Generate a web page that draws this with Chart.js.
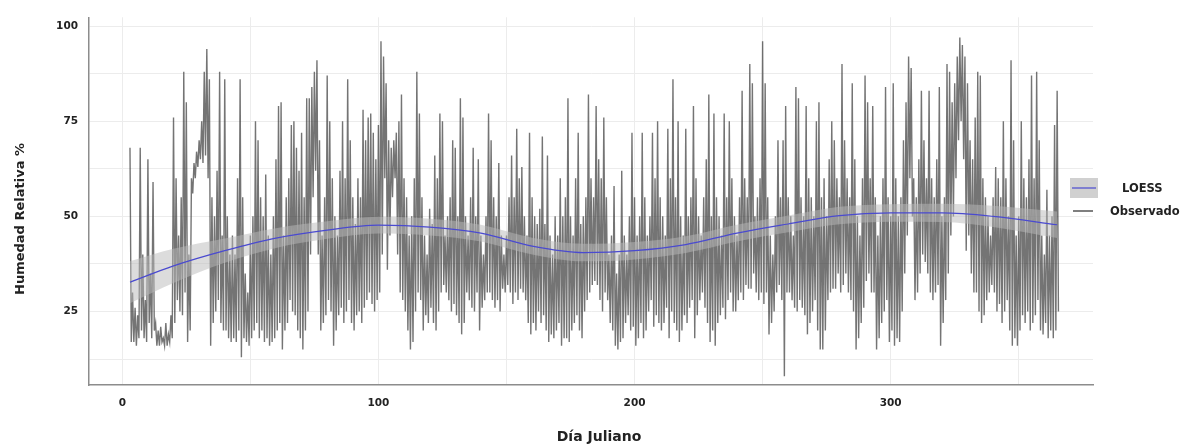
<!DOCTYPE html>
<html>
<head>
<meta charset="utf-8">
<script src="https://cdn.jsdelivr.net/npm/chart.js@4.4.1/dist/chart.umd.min.js"></script>
<style>
  html, body { margin: 0; padding: 0; background: #ffffff; }
  #wrap { width: 1193px; height: 446px; position: relative; }
</style>
</head>
<body>
<div id="wrap"><canvas id="c" width="1193" height="446"></canvas></div>
<script>
// ---- Data ----
const dayStart = 3; // first Julian day with observations
// Daily maximum relative humidity (%), days 3..365
const humMax = [
  68, 30, 26, 24, 68, 40, 28, 65, 35, 59,
  22, 20, 21, 18, 22, 19, 24, 76, 60, 45,
  55, 88, 80, 40, 60, 64, 67, 70, 75, 88,
  94, 86, 55, 50, 62, 88, 45, 86, 50, 40,
  45, 40, 60, 86, 55, 35, 30, 45, 50, 75,
  70, 55, 50, 61, 45, 40, 50, 65, 79, 80,
  45, 55, 60, 74, 75, 68, 62, 72, 55, 81,
  81, 84, 88, 91, 70, 45, 55, 87, 75, 60,
  50, 45, 62, 75, 60, 86, 70, 55, 48, 60,
  55, 78, 70, 76, 77, 72, 65, 74, 96, 92,
  85, 70, 68, 70, 72, 75, 82, 60, 55, 45,
  50, 60, 88, 77, 55, 45, 40, 52, 48, 66,
  60, 77, 75, 45, 50, 55, 70, 68, 50, 81,
  76, 50, 45, 55, 68, 50, 65, 45, 40, 50,
  77, 70, 55, 50, 64, 45, 40, 45, 55, 66,
  55, 73, 60, 63, 50, 45, 72, 55, 50, 48,
  52, 71, 48, 66, 45, 40, 50, 45, 60, 50,
  55, 81, 50, 45, 60, 72, 48, 50, 55, 82,
  60, 55, 79, 65, 60, 76, 55, 40, 45, 58,
  35, 40, 62, 45, 40, 50, 72, 55, 45, 50,
  72, 55, 45, 50, 72, 60, 75, 55, 50, 45,
  73, 60, 86, 55, 75, 50, 45, 73, 50, 55,
  79, 60, 50, 45, 55, 65, 82, 50, 77, 55,
  50, 45, 77, 55, 75, 60, 50, 45, 55, 83,
  60, 55, 90, 85, 50, 55, 60, 96, 85, 55,
  45, 40, 50, 70, 55, 70, 79, 55, 50, 45,
  84, 81, 55, 50, 79, 60, 55, 50, 75, 80,
  55, 60, 50, 65, 75, 70, 60, 55, 90, 70,
  60, 55, 85, 65, 50, 45, 60, 87, 80, 60,
  79, 55, 45, 50, 60, 84, 55, 50, 85, 60,
  50, 55, 70, 80, 92, 89, 60, 55, 65, 83,
  70, 60, 83, 60, 55, 65, 84, 50, 55, 90,
  88, 80, 85, 92, 97, 95, 92, 85, 70, 65,
  76, 88, 87, 60, 55, 50, 45, 55, 63, 60,
  55, 75, 60, 50, 91, 70, 45, 50, 75, 60,
  55, 65, 87, 60, 88, 70, 45, 40, 57, 45,
  50, 74, 83
];
// Daily minimum relative humidity (%), days 3..365
const humMin = [
  17, 17, 16, 18, 20, 18, 17, 22, 18, 20,
  16, 16, 17, 16, 16, 17, 18, 22, 28, 25,
  24, 30, 17, 20, 56, 60, 63, 65, 64, 66,
  60, 16, 22, 25, 28, 22, 20, 20, 18, 17,
  18, 17, 20, 13, 18, 17, 16, 18, 20, 22,
  18, 20, 17, 18, 16, 17, 18, 20, 22, 15,
  20, 22, 28, 25, 24, 20, 18, 15, 20, 25,
  40, 55, 62, 40, 20, 22, 24, 28, 25, 16,
  20, 24, 26, 22, 25, 28, 22, 20, 24, 25,
  22, 26, 28, 30, 27, 25, 28, 30, 40, 60,
  36, 45, 55, 60, 40, 30, 28, 25, 20, 15,
  17, 25, 30, 28, 20, 24, 22, 26, 22, 20,
  25, 30, 32, 30, 28, 25, 27, 24, 22, 19,
  22, 30, 28, 26, 25, 30, 20, 26, 28, 30,
  30, 28, 26, 28, 25, 31, 30, 32, 30, 27,
  30, 28, 31, 30, 28, 22, 19, 22, 20, 25,
  22, 24, 20, 17, 19, 18, 20, 22, 16, 18,
  18, 17, 20, 22, 24, 20, 18, 25, 28, 30,
  32, 33, 32, 28, 25, 30, 28, 22, 20, 16,
  15, 17, 18, 22, 24, 20, 21, 16, 18, 22,
  18, 20, 25, 28, 21, 24, 22, 20, 22, 26,
  18, 25, 22, 20, 17, 20, 24, 22, 26, 28,
  18, 24, 28, 30, 26, 22, 17, 20, 16, 22,
  24, 26, 23, 28, 30, 25, 25, 28, 30, 28,
  32, 31, 31, 35, 30, 28, 30, 27, 30, 19,
  22, 25, 30, 32, 28, 8, 30, 30, 28, 26,
  25, 28, 26, 24, 19, 22, 25, 28, 20, 15,
  15, 20, 28, 30, 31, 31, 35, 30, 32, 35,
  30, 28, 25, 15, 18, 22, 26, 33, 35, 30,
  30, 15, 18, 22, 25, 28, 17, 20, 16, 18,
  17, 25, 35, 45, 60, 50, 28, 30, 35, 40,
  38, 35, 30, 28, 30, 32, 16, 22, 28, 35,
  45, 50, 60, 70, 75, 65, 41, 45, 35, 30,
  30, 25, 22, 24, 28, 30, 32, 30, 25, 27,
  22, 25, 28, 20, 16, 18, 16, 20, 24, 22,
  25, 20, 22, 24, 28, 20, 19, 22, 18, 20,
  18, 20, 25
];
// LOESS fit and its confidence half-width
const loessDay  = [3, 20, 40, 60, 80, 100, 120, 140, 160, 180, 200, 220, 240, 260, 280, 300, 320, 340, 365];
const loessVal  = [32.7, 37, 41, 44.3, 46.4, 47.7, 47.2, 45.6, 42.2, 40.5, 41, 42.6, 45.6, 48.0, 50.2, 50.9, 50.9, 50.0, 47.8];
const loessHalf = [5.5, 4.5, 3.2, 2.6, 2.3, 2.2, 2.2, 2.2, 2.2, 2.3, 2.3, 2.2, 2.2, 2.2, 2.3, 2.3, 2.4, 2.8, 3.5];
// Axis ticks
const xGridTicks = [0, 50, 100, 150, 200, 250, 300, 350];
const xLabelTicks = [0, 100, 200, 300];
const yGridTicks = [12.5, 25, 37.5, 50, 62.5, 75, 87.5, 100];
const yLabelTicks = [25, 50, 75, 100];
const legendLabels = ['LOESS', 'Observado'];

// ---- Build datasets ----
const obsPts = [];
for (let i = 0; i < humMax.length; i++) {
  obsPts.push({ x: dayStart + i, y: humMax[i] });
  obsPts.push({ x: dayStart + i + 0.5, y: humMin[i] });
}
const loessPts = loessDay.map((d, i) => ({ x: d, y: loessVal[i] }));
const upperPts = loessDay.map((d, i) => ({ x: d, y: loessVal[i] + loessHalf[i] }));
const lowerPts = loessDay.map((d, i) => ({ x: d, y: loessVal[i] - loessHalf[i] }));

const FONT = '"DejaVu Sans", "Open Sans", sans-serif';

const overlay = {
  id: 'overlay',
  afterDraw(chart) {
    const ctx = chart.ctx;
    ctx.save();
    // axis titles
    ctx.fillStyle = '#222';
    ctx.font = 'bold 14px ' + FONT;
    ctx.textAlign = 'center';
    ctx.textBaseline = 'middle';
    ctx.fillText('Día Juliano', 599, 437);
    ctx.save();
    ctx.translate(21, 219);
    ctx.rotate(-Math.PI / 2);
    ctx.font = 'bold 13px ' + FONT;
    ctx.fillText('Humedad Relativa %', 0, 0);
    ctx.restore();
    // legend
    ctx.fillStyle = 'rgba(205,205,205,0.95)';
    ctx.fillRect(1070, 178, 28, 20);
    ctx.strokeStyle = '#4a4ad0';
    ctx.lineWidth = 1.2;
    ctx.beginPath(); ctx.moveTo(1072, 188); ctx.lineTo(1096, 188); ctx.stroke();
    ctx.strokeStyle = '#555';
    ctx.lineWidth = 1.5;
    ctx.beginPath(); ctx.moveTo(1073, 211); ctx.lineTo(1093, 211); ctx.stroke();
    ctx.fillStyle = '#222';
    ctx.font = 'bold 11.5px ' + FONT;
    ctx.textAlign = 'left';
    ctx.fillText(legendLabels[0], 1122, 189);
    ctx.fillText(legendLabels[1], 1110, 212);
    ctx.restore();
  }
};

new Chart(document.getElementById('c'), {
  type: 'line',
  data: {
    datasets: [
      { label: 'LOESS', data: loessPts, borderColor: '#4a4ad0', borderWidth: 1.2,
        pointRadius: 0, cubicInterpolationMode: 'monotone', fill: false, order: 0 },
      { label: 'upper', data: upperPts, borderColor: 'rgba(0,0,0,0)', borderWidth: 0,
        pointRadius: 0, cubicInterpolationMode: 'monotone', fill: false, order: 1 },
      { label: 'lower', data: lowerPts, borderColor: 'rgba(0,0,0,0)', borderWidth: 0,
        pointRadius: 0, cubicInterpolationMode: 'monotone', fill: '-1',
        backgroundColor: 'rgba(185,185,185,0.5)', order: 1 },
      { label: 'Observado', data: obsPts, borderColor: 'rgba(50,50,50,0.68)', borderWidth: 1.4,
        pointRadius: 0, tension: 0, fill: false, order: 3 }
    ]
  },
  options: {
    responsive: false,
    animation: false,
    events: [],
    layout: { padding: { top: 10, right: 100, left: 0, bottom: 0 } },
    plugins: { legend: { display: false }, tooltip: { enabled: false }, title: { display: false } },
    scales: {
      x: {
        type: 'linear', min: -13, max: 379,
        afterBuildTicks: s => { s.ticks = xGridTicks.map(v => ({ value: v })); },
        afterFit: s => { s.height = 61; },
        grid: { color: '#ececec', lineWidth: 1, drawTicks: false },
        border: { color: '#8c8c8c', width: 1.5 },
        ticks: {
          padding: 12, color: '#222', maxRotation: 0, autoSkip: false,
          font: { family: FONT, size: 10.5, weight: 'bold' },
          callback: v => (xLabelTicks.includes(v) ? String(v) : '')
        }
      },
      y: {
        type: 'linear', min: 5.7, max: 102.3,
        afterBuildTicks: s => { s.ticks = yGridTicks.map(v => ({ value: v })); },
        afterFit: s => { s.width = 89; },
        grid: { color: '#ececec', lineWidth: 1, drawTicks: false },
        border: { color: '#8c8c8c', width: 1.5 },
        ticks: {
          padding: 11, color: '#222', autoSkip: false,
          font: { family: FONT, size: 10.5, weight: 'bold' },
          callback: v => (yLabelTicks.includes(v) ? String(v) : '')
        }
      }
    }
  },
  plugins: [overlay]
});
</script>
</body>
</html>
